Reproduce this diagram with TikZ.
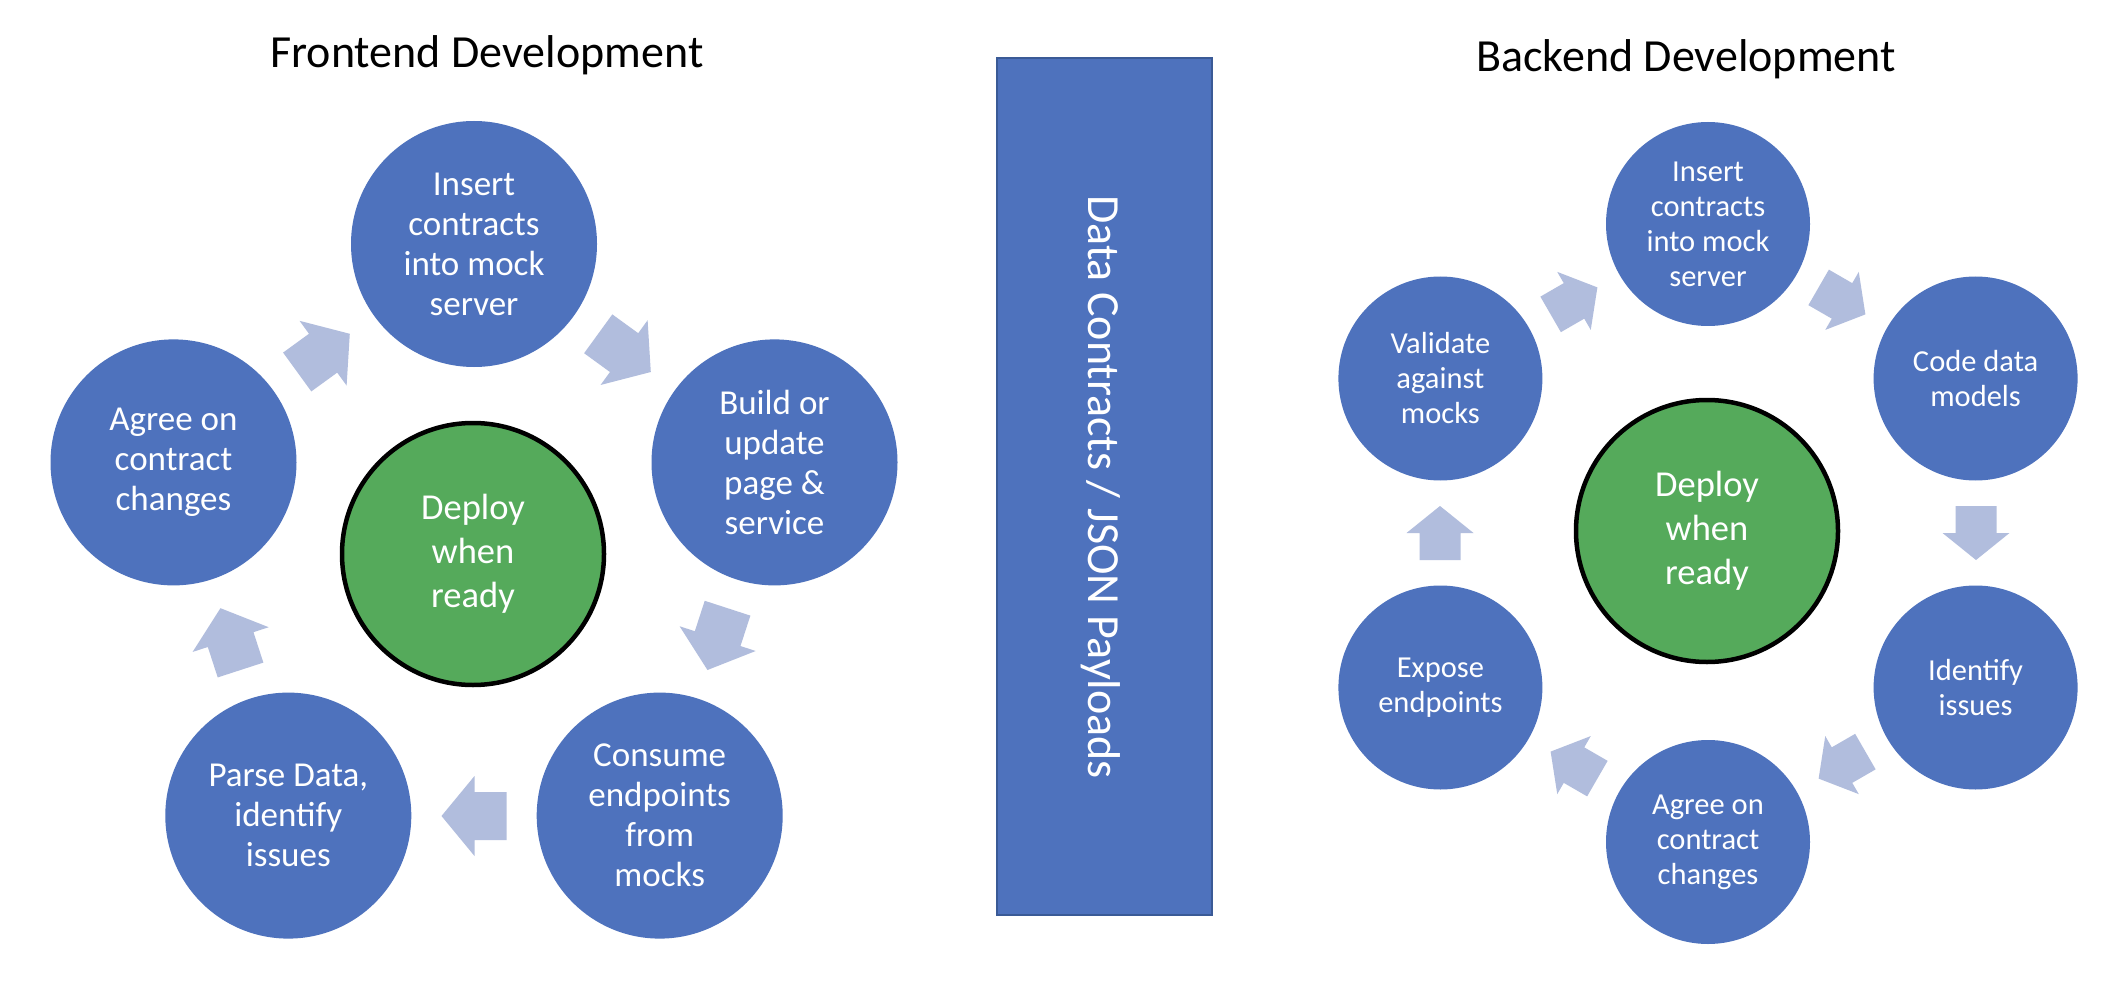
\documentclass[tikz,border=0pt]{standalone}
\usepackage{fontspec}
\setmainfont{Carlito}
\definecolor{cblue}{HTML}{4E72BD}
\definecolor{arrc}{HTML}{B1BDDD}
\definecolor{cgreen}{HTML}{55AA5B}
\definecolor{rborder}{HTML}{3A5A96}
\newcommand{\larrow}[3]{\fill[arrc,shift={(#1,#2)},rotate=#3] (-32.5,-24) -- (-0.5,-24) -- (-0.5,-40) -- (32.5,0) -- (-0.5,40) -- (-0.5,24) -- (-32.5,24) -- cycle;}
\newcommand{\rarrow}[3]{\fill[arrc,shift={(#1,#2)},rotate=#3] (-27,-20.5) -- (0,-20.5) -- (0,-33.5) -- (27,0) -- (0,33.5) -- (0,20.5) -- (-27,20.5) -- cycle;}
\begin{document}
\begin{tikzpicture}[x=1pt,y=-1pt,
  lcirc/.style={circle, fill=cblue, minimum size=246pt, inner sep=0pt, text=white, align=center, font=\fontsize{35}{40}\selectfont},
  rcirc/.style={circle, fill=cblue, minimum size=204pt, inner sep=0pt, text=white, align=center, font=\fontsize{30.5}{35}\selectfont},
  gcirc/.style={circle, fill=cgreen, draw=black, line width=4.5pt, minimum size=262pt, inner sep=0pt, text=white, align=center, font=\fontsize{36.5}{44}\selectfont},
  title/.style={anchor=base, font=\fontsize{46}{52}\selectfont, text=black}]
\useasboundingbox (0,0) rectangle (2118,984);
\fill[white] (0,0) rectangle (2118,984);
% titles
\node[title] (ftitle) at (487,68) {Frontend Development};
\node[title] (btitle) at (1686,72) {Backend Development};
% frontend cycle
\node[lcirc] (f1) at (474,244) {Insert\\contracts\\into mock\\server};
\node[lcirc] (f2) at (774.5,462.4) {Build or\\update\\page \&\\service};
\node[lcirc] (f3) at (659.7,815.6) {Consume\\endpoints\\from\\mocks};
\node[lcirc] (f4) at (288.3,815.6) {Parse Data,\\identify\\issues};
\node[lcirc] (f5) at (173.5,462.4) {Agree on\\contract\\changes};
\node[gcirc] (fg) at (473,554) {Deploy\\when\\ready};
\larrow{323.5}{352.9}{36}
\larrow{624.5}{352.9}{-36}
\larrow{717.5}{639.1}{-108}
\larrow{474}{816}{180}
\larrow{230.5}{639.1}{108}
% middle bar
\node[draw=rborder, fill=cblue, line width=1.5pt, minimum width=215pt, minimum height=857pt, inner sep=0pt] (bar) at (1104.5,486.5) {};
\node[rotate=-90, text=white, font=\fontsize{46}{52}\selectfont] (bartext) at (1101,487) {Data Contracts / JSON Payloads};
% backend cycle
\node[rcirc] (b1) at (1708,224) {Insert\\contracts\\into mock\\server};
\node[rcirc] (b2) at (1975.6,378.5) {Code data\\models};
\node[rcirc] (b3) at (1975.6,687.5) {Identify\\issues};
\node[rcirc] (b4) at (1708,842) {Agree on\\contract\\changes};
\node[rcirc] (b5) at (1440.4,687.5) {Expose\\endpoints};
\node[rcirc] (b6) at (1440.4,378.5) {Validate\\against\\mocks};
\node[gcirc] (bg) at (1707,531) {Deploy\\when\\ready};
\rarrow{1574}{300.9}{30}
\rarrow{1842}{300.9}{-30}
\rarrow{1976}{533}{-90}
\rarrow{1842}{765.1}{-150}
\rarrow{1574}{765.1}{150}
\rarrow{1440}{533}{90}
\end{tikzpicture}
\end{document}
